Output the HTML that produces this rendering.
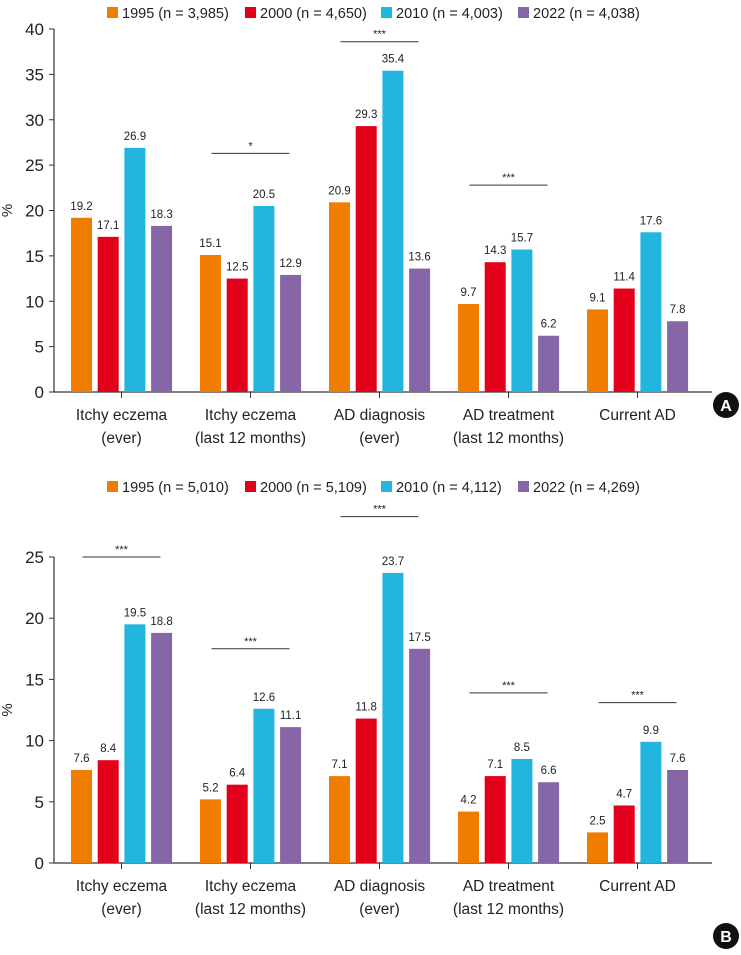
<!DOCTYPE html>
<html><head><meta charset="utf-8"><style>
body{margin:0;background:#fff}
svg text{font-family:"Liberation Sans",sans-serif;fill:#222}
</style></head><body>
<svg id="c" width="741" height="950"></svg>
<script>
const categories=[["Itchy eczema","(ever)"],["Itchy eczema","(last 12 months)"],["AD diagnosis","(ever)"],["AD treatment","(last 12 months)"],["Current AD",""]];
const legendA=["1995 (n = 3,985)","2000 (n = 4,650)","2010 (n = 4,003)","2022 (n = 4,038)"];
const legendB=["1995 (n = 5,010)","2000 (n = 5,109)","2010 (n = 4,112)","2022 (n = 4,269)"];
const valuesA=[[19.2,15.1,20.9,9.7,9.1],[17.1,12.5,29.3,14.3,11.4],[26.9,20.5,35.4,15.7,17.6],[18.3,12.9,13.6,6.2,7.8]];
const valuesB=[[7.6,5.2,7.1,4.2,2.5],[8.4,6.4,11.8,7.1,4.7],[19.5,12.6,23.7,8.5,9.9],[18.8,11.1,17.5,6.6,7.6]];
const ticksA=[0,5,10,15,20,25,30,35,40];
const ticksB=[0,5,10,15,20,25];
const sigA=[[1,"*",26.3],[2,"***",38.6],[3,"***",22.8]];
const sigB=[[0,"***",25],[1,"***",17.5],[2,"***",28.3],[3,"***",13.9],[4,"***",13.1]];
const colors=["#f07d00","#e2001a","#22b5dd","#8766a8"];
const NS="http://www.w3.org/2000/svg",svg=document.getElementById('c');
function mk(t,a,txt,p){const e=document.createElementNS(NS,t);for(const k in a)e.setAttribute(k,a[k]);if(txt!==undefined)e.textContent=txt;(p||svg).appendChild(e);return e;}
function panel(id,vals,ticks,legend,sig,y0,yTop,maxV,legY,letter,letY){
 const g=mk('g',{});
 
 
 const y=v=>y0-(y0-yTop)*v/maxV;
 const cx=i=>121.5+129*i;
 const lx=[107,245,381,518];
 legend.forEach((l,s)=>{const r=mk('rect',{x:lx[s],y:legY-6,width:11,height:11,fill:colors[s]},undefined,g);
  
  const t=mk('text',{x:lx[s]+15,y:legY+5,'font-size':14.5},l,g);
  });
 const ax=mk('path',{d:`M54 ${yTop}V${y0}H712`,stroke:'#333','stroke-width':1.2,fill:'none'},undefined,g);
 
 ticks.forEach(t=>{mk('line',{x1:49,x2:54,y1:y(t),y2:y(t),stroke:'#333'},undefined,g);
  const tl=mk('text',{x:44,y:y(t)+6,'font-size':17,'text-anchor':'end'},t,g);
  });
 const yt=mk('text',{x:12,y:(y0+yTop)/2,'font-size':15,'text-anchor':'middle',transform:`rotate(-90 12 ${(y0+yTop)/2})`},'%',g);
 
 categories.forEach((c,i)=>{mk('line',{x1:cx(i),x2:cx(i),y1:y0,y2:y0+6,stroke:'#333'},undefined,g);
  const t=mk('text',{x:cx(i),y:y0+28,'font-size':15.5,'text-anchor':'middle'},c[0],g);
  
  if(c[1]){const t2=mk('text',{x:cx(i),y:y0+51,'font-size':15.5,'text-anchor':'middle'},c[1],g);
  }});
 vals.forEach((sv,s)=>sv.forEach((v,i)=>{const x=cx(i)-50.5+s*26.7;
  const r=mk('rect',{x:x,y:y(v),width:21,height:y0-y(v),fill:colors[s]},undefined,g);
  
  const t=mk('text',{x:x+10.5,y:y(v)-8,'font-size':11.5,'text-anchor':'middle'},v.toFixed(1),g);
  }));
 sig.forEach(([i,s,v])=>{const l=mk('line',{x1:cx(i)-39,x2:cx(i)+39,y1:y(v),y2:y(v),stroke:'#333'},undefined,g);
  
  const t=mk('text',{x:cx(i),y:y(v)-4,'font-size':11,'text-anchor':'middle'},s,g);
  });
 const c=mk('circle',{cx:726,cy:letY,r:13,fill:'#111'},undefined,g);
 
 const lt=mk('text',{x:726,y:letY+6,'font-size':16,'font-weight':'bold','text-anchor':'middle',style:'fill:#fff'},letter,g);
 
}
panel('a',valuesA,ticksA,legendA,sigA,392,29,40,13,'A',405);
panel('b',valuesB,ticksB,legendB,sigB,863,557,25,487,'B',936);
</script>
</body></html>
